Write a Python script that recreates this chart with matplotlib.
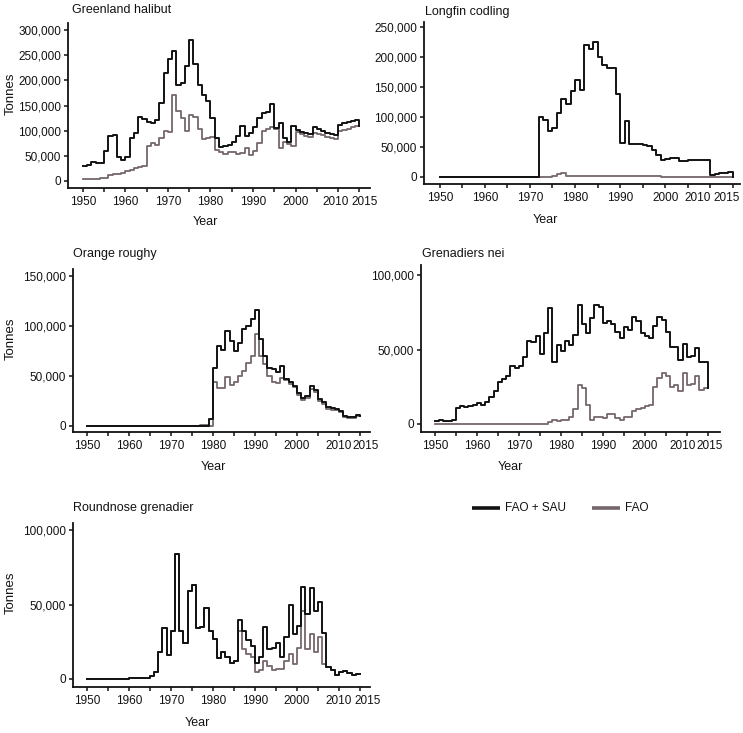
import matplotlib
matplotlib.use("Agg")
import matplotlib.pyplot as plt
import matplotlib.transforms as mtransforms
from matplotlib.ticker import FuncFormatter

plt.rcParams['font.family'] = ['Liberation Sans', 'DejaVu Sans']

years = list(range(1950, 2015))

# Greenland halibut (thousand tonnes)
gh_total = [30, 32, 38, 36, 35, 60, 90, 91, 47, 42, 48, 85, 95, 127, 124, 117, 115, 122, 155, 215,
            242, 258, 190, 195, 228, 280, 232, 190, 170, 158, 125, 86, 67, 70, 71, 78, 89, 109, 89, 96,
            108, 125, 136, 138, 152, 105, 116, 85, 78, 110, 101, 97, 95, 94, 107, 103, 99, 96, 93, 91,
            112, 116, 117, 120, 121]
gh_fao = [3, 3, 4, 4, 5, 5, 12, 13, 14, 15, 20, 22, 25, 28, 30, 70, 76, 72, 85, 100,
          97, 170, 140, 125, 100, 132, 128, 103, 83, 85, 88, 62, 57, 54, 58, 57, 54, 56, 65, 51,
          60, 75, 100, 104, 107, 104, 65, 77, 73, 70, 98, 93, 90, 87, 96, 94, 91, 88, 86, 84,
          99, 101, 103, 107, 110]

# Longfin codling
lc_total = [0] * 22 + [100, 95, 76, 82, 107, 130, 121, 143, 162, 145, 219, 213, 224, 199, 187, 181, 181, 138,
                       56, 93, 55, 55, 55, 54, 51, 45, 37, 29, 30, 31, 31, 27, 27, 28, 28, 28, 28, 28,
                       4, 5, 6, 6, 9]
lc_fao = [0] * 25 + [1.5, 5, 6, 1.5, 1.5, 1.5, 1.5, 1.5, 1.5, 1.5, 1.4, 1.4, 1.3, 1.3, 1.2,
                     1.2, 1.1, 1.1, 1.0, 1.0, 0.9, 0.9, 0.8, 0.8, 0.7, 0.7, 0.6, 0.6, 0.5, 0.5,
                     0.4, 0.4, 0.3, 0.3, 0.2, 0.2, 0.1, 0.1, 0.1, 0.1]

# Orange roughy
or_total = [0] * 29 + [7, 58, 80, 76, 95, 85, 75, 83, 97, 100, 107, 116, 87, 70, 58, 57, 54, 60, 47, 44, 40,
                       33, 28, 30, 40, 36, 27, 24, 19, 18, 17, 15, 10, 9, 9, 11]
or_fao = [0] * 27 + [1, 1, 0, 44, 38, 38, 49, 41, 44, 50, 55, 63, 70, 92, 70, 62, 50, 44, 43, 48, 46, 42, 39,
                     31, 26, 28, 37, 34, 25, 22, 17, 16, 16, 14, 9, 8, 8, 10]

# Grenadiers nei
gn_total = [2, 3, 2, 2, 3, 11, 12, 11.5, 12, 12.5, 14, 13, 15, 18, 22, 28, 30, 32, 39, 38,
            39, 45, 56, 55, 59, 47, 61, 78, 42, 53, 49, 56, 53, 60, 80, 67, 61, 71, 80, 79,
            68, 69, 67, 62, 58, 65, 63, 72, 69, 61, 59, 58, 66, 72, 70, 62, 52, 52, 43, 54,
            45, 46, 51, 42, 42]
gn_fao = [0] * 27 + [1, 3, 2, 2.5, 2.5, 5, 10, 26, 24, 13, 3, 5, 4.5, 4, 7, 7, 4, 3, 4.5, 5, 9, 10, 11,
                     12, 13, 25, 31, 34, 32, 25, 26, 22, 34, 26, 27, 32, 23, 24]

# Roundnose grenadier
rg_total = [0] * 10 + [0.5, 0.5, 0.5, 0.5, 0.5, 2, 5, 18, 34, 16, 32, 84, 32, 24, 59, 63, 34, 35, 48, 32,
                       27, 14, 18, 15, 11, 12, 40, 32, 26, 22, 11, 15, 35, 20, 21, 24, 15, 28, 50, 30,
                       36, 62, 44, 61, 46, 52, 31, 8, 6, 3, 5, 5.5, 4, 3, 3.5]
rg_fao = [0] * 10 + [0.5, 0.5, 0.5, 0.5, 0.5, 2, 5, 18, 34, 16, 32, 84, 32, 24, 59, 63, 34, 35, 48, 32,
                     27, 14, 18, 15, 11, 12, 32, 20, 17, 15, 5, 6, 12, 9, 6, 7, 7, 12, 17, 10,
                     21, 46, 20, 30, 18, 28, 10, 8, 6, 3, 5, 5.5, 4, 3, 3.5]

titles = ["Greenland halibut", "Longfin codling", "Orange roughy", "Grenadiers nei", "Roundnose grenadier"]
tick_years = [1950, 1955, 1960, 1965, 1970, 1975, 1980, 1985, 1990, 1995, 2000, 2005, 2010, 2015]
tick_labels = ["1950", "", "1960", "", "1970", "", "1980", "", "1990", "", "2000", "", "2010", "2015"]
legend_labels = ["FAO + SAU", "FAO"]

BLACK = "#121212"
GRAY = "#75676a"

W, H = 743, 733
fig = plt.figure(figsize=(W / 100, H / 100), dpi=100)


def add_axes(left, right, top, bottom):
    return fig.add_axes([left / W, 1 - bottom / H, (right - left) / W, (bottom - top) / H])


panels = [
    dict(box=(68, 370, 23, 188), xlim=(1946.5, 2017.5), ylim=(-14, 314),
         yticks=[0, 50, 100, 150, 200, 250, 300], tonnes=True, year_xy=(205, 222),
         title_xy=(72, 10), dx10=-2, dx15=5, total=gh_total, fao=gh_fao),
    dict(box=(424, 740, 22, 184), xlim=(1946.5, 2016.6), ylim=(-11.7, 258),
         yticks=[0, 50, 100, 150, 200, 250], tonnes=False, year_xy=(545, 220),
         title_xy=(425, 12), dx10=-13, dx15=-6, total=lc_total, fao=lc_fao),
    dict(box=(73, 370, 269, 432), xlim=(1946.7, 2017.4), ylim=(-6, 157),
         yticks=[0, 50, 100, 150], tonnes=True, year_xy=(213, 467),
         title_xy=(73, 254), dx10=0, dx15=6, total=or_total, fao=or_fao),
    dict(box=(421, 720, 265, 432), xlim=(1946.7, 2017.9), ylim=(-5.4, 107),
         yticks=[0, 50, 100], tonnes=False, year_xy=(510, 467),
         title_xy=(422, 254), dx10=-4, dx15=2, total=gn_total, fao=gn_fao),
    dict(box=(73, 370, 523, 687), xlim=(1946.7, 2017.4), ylim=(-5.4, 105),
         yticks=[0, 50, 100], tonnes=True, year_xy=(197, 723),
         title_xy=(73, 508), dx10=0, dx15=8, total=rg_total, fao=rg_fao),
]

fmt = FuncFormatter(lambda v, p: f"{int(round(v * 1000)):,}")

for p, title in zip(panels, titles):
    l, r, t, b = p["box"]
    ax = add_axes(l, r, t, b)
    xs = years + [2015, 2015]
    fao = list(p["fao"]) + [p["fao"][-1], p["fao"][-1]]
    tot = list(p["total"]) + [p["total"][-1], p["fao"][-1]]
    ax.step(xs, fao, where="post", color=GRAY, lw=1.3, zorder=2)
    ax.step(xs, tot, where="post", color=BLACK, lw=1.4, zorder=3)
    ax.set_xlim(*p["xlim"])
    ax.set_ylim(*p["ylim"])
    ax.set_xticks(tick_years)
    ax.set_xticklabels(tick_labels)
    ax.set_yticks(p["yticks"])
    ax.yaxis.set_major_formatter(fmt)
    for s in ["top", "right"]:
        ax.spines[s].set_visible(False)
    for s in ["left", "bottom"]:
        ax.spines[s].set_linewidth(1.3)
        ax.spines[s].set_color(BLACK)
    ax.tick_params(axis="both", direction="out", length=3, width=1.1, labelsize=8.5,
                   color=BLACK, labelcolor=BLACK, pad=2)
    ax.tick_params(axis="x", pad=2.5)
    # nudge the crowded 2010 / 2015 labels apart as in the original
    xt = ax.get_xticklabels()
    for lab, dx in ((xt[-2], p["dx10"]), (xt[-1], p["dx15"])):
        lab.set_transform(lab.get_transform() + mtransforms.ScaledTranslation(dx / 100, 0, fig.dpi_scale_trans))
    yx, yy = p["year_xy"]
    fig.text(yx / W, 1 - yy / H, "Year", ha="center", va="center", fontsize=9, color=BLACK)
    if p["tonnes"]:
        fig.text(11 / W, 1 - ((t + b) / 2 - 12) / H, "Tonnes", rotation=90, ha="center", va="center",
                 fontsize=9.5, color=BLACK)
    tx, ty = p["title_xy"]
    fig.text(tx / W, 1 - ty / H, title, ha="left", va="center", fontsize=9, color=BLACK)

# legend
leg_ax = fig.add_axes([0, 0, 1, 1], facecolor="none")
leg_ax.set_axis_off()
leg_ax.set_xlim(0, W)
leg_ax.set_ylim(H, 0)
leg_ax.plot([472, 500], [508, 508], color=BLACK, lw=2.6, solid_capstyle="butt")
leg_ax.text(505, 508, legend_labels[0], ha="left", va="center", fontsize=8.5, color=BLACK)
leg_ax.plot([592, 620], [508, 508], color=GRAY, lw=2.6, solid_capstyle="butt")
leg_ax.text(625, 508, legend_labels[1], ha="left", va="center", fontsize=8.5, color=BLACK)

fig.savefig("out.png", dpi=100)
